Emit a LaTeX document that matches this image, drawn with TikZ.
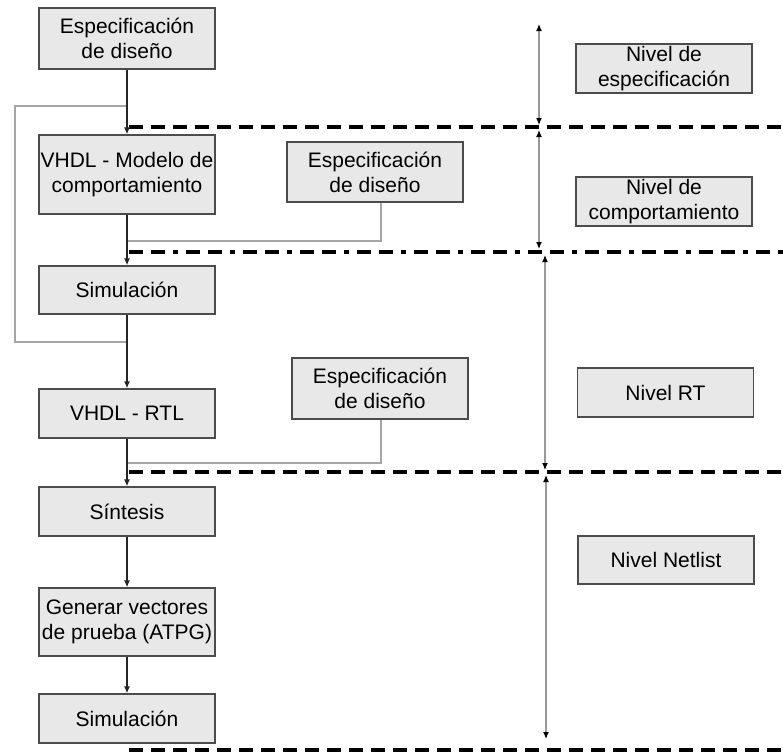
\documentclass[tikz,border=0pt]{standalone}
\usepackage{fontspec}
\setmainfont{Liberation Sans}
\usetikzlibrary{arrows.meta}

\begin{document}
\begin{tikzpicture}[x=1pt,y=-1pt,
        box/.style={draw=black!70,line width=1.3pt,fill=black!9,minimum width=176pt,
          inner sep=0pt,align=center,font=\fontsize{21}{25}\selectfont},
        flow/.style={draw=black!85,line width=1.3pt,-{Latex[length=7pt,width=6pt]}},
        grayline/.style={draw=black!35,line width=1.2pt},
        lvl/.style={draw=black!40,line width=1.2pt,{Latex[length=7pt,width=6pt,color=black]}-{Latex[length=7pt,width=6pt,color=black]}},
        sep/.style={draw=black,line width=3.5pt,dash pattern=on 14pt off 8pt}]
        \useasboundingbox (0,0) rectangle (783,753);

        % Left column.
        \node[box,minimum height=61pt] (b1) at (127,38.5) {Especificación\\de diseño};
        \node[box,minimum height=79pt] (b2) at (127,174.5) {VHDL - Modelo de\\comportamiento};
        \node[box,minimum height=48pt] (b3) at (127,290) {Simulación};
        \node[box,minimum height=49pt] (b4) at (127,413.5) {VHDL - RTL};
        \node[box,minimum height=49pt] (b5) at (127,511.5) {Síntesis};
        \node[box,minimum height=68pt] (b6) at (127,622) {Generar vectores\\de prueba (ATPG)};
        \node[box,minimum height=49pt] (b7) at (127,718.5) {Simulación};

        % Middle column.
        \node[box,minimum height=60pt] (e2) at (375,172) {Especificación\\de diseño};
        \node[box,minimum height=61pt] (e3) at (380,388.5) {Especificación\\de diseño};

        % Right column (levels).
        \node[box,minimum height=49pt] (n1) at (664,68.5) {Nivel de\\especificación};
        \node[box,minimum height=49pt] (n2) at (664,201.5) {Nivel de\\comportamiento};
        \node[box,minimum height=49pt] (n3) at (665.5,392.5) {Nivel RT};
        \node[box,minimum height=48pt] (n4) at (666,560) {Nivel Netlist};

        % Level separators.
        \draw[sep] (129,127) -- (783,127);
        \draw[sep,dash pattern=on 14pt off 8pt on 14pt off 8pt on 5pt off 8pt] (129,252) -- (783,252);
        \draw[sep] (129,472) -- (783,472);
        \draw[sep] (129,750) -- (783,750);

        % Level extents.
        \draw[lvl] (539,24) -- (539,125);
        \draw[lvl] (539,130) -- (539,249);
        \draw[lvl] (545,255) -- (545,470);
        \draw[lvl] (546,475) -- (546,739);

        % Joins on the main line.
        \coordinate (j1) at (127,241);
        \coordinate (j2) at (127,463);
        \coordinate (fbA) at (127,342);
        \coordinate (fbB) at (127,106);
        \coordinate (lp1) at (15,342);
        \coordinate (lp2) at (15,106);

        \draw[grayline] ([xshift=6pt]e2.south) |- (j1);
        \draw[grayline] ([xshift=1pt]e3.south) |- (j2);
        \draw[grayline] (fbA) -- (lp1) -- (lp2) -- (fbB); % Feedback loop.

        \draw[flow] (b1) -- (b2);
        \draw[flow] (b2) -- (b3);
        \draw[flow] (b3) -- (b4);
        \draw[flow] (b4) -- (b5);
        \draw[flow] (b5) -- (b6);
        \draw[flow] (b6) -- (b7);
      \end{tikzpicture}
\end{document}
